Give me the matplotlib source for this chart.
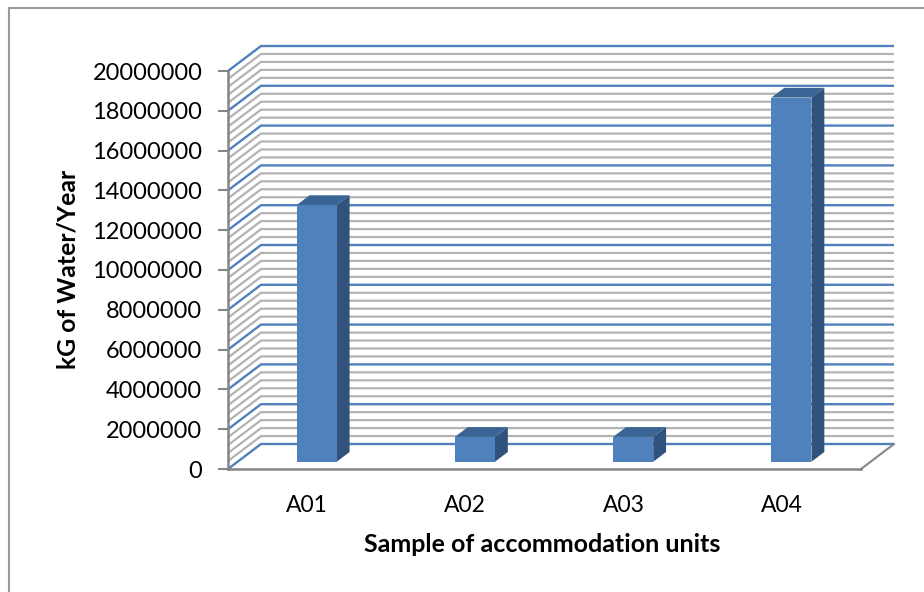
#!/usr/bin/env python

import numpy as np
import matplotlib
matplotlib.use("Agg")
import matplotlib.pyplot as plt
from matplotlib.lines import Line2D
from matplotlib.patches import Polygon

# values
units = ["A01", "A02", "A03", "A04"]
water = [12900000, 1250000, 1250000, 18300000]
major_ticks = [0, 2000000, 4000000, 6000000, 8000000, 10000000,
               12000000, 14000000, 16000000, 18000000, 20000000]
minor_step = 400000
y_max = 20000000

# colours
BLUE = "#4F81BD"
SIDE = "#31527C"
TOP = "#3A6493"
GRID = "#B3B3B3"
AXIS = "#868686"

# fake 3D: how far the back wall sits from the front plane, in data units
DEPTH_X = 33 / 158.25
DEPTH_Y = 25 / 19.9 * 1000000
BAR_WIDTH = 0.253
BAR_FRONT = 0.29
BAR_BACK = 0.68


def project(x, y, d):
    return (x + d * DEPTH_X, y + d * DEPTH_Y)


def draw_wall_line(ax, value, color, lw, z):
    x0, y0 = project(0, value, 0)
    x1, y1 = project(0, value, 1)
    x2, y2 = project(4, value, 1)
    ax.plot([x0, x1, x2], [y0, y1, y2], color=color, lw=lw, zorder=z,
            clip_on=False, solid_joinstyle="miter", solid_capstyle="butt")


def draw_bar(ax, pos, value):
    l = pos - BAR_WIDTH / 2
    r = pos + BAR_WIDTH / 2
    front = [project(l, 0, BAR_FRONT), project(r, 0, BAR_FRONT),
             project(r, value, BAR_FRONT), project(l, value, BAR_FRONT)]
    side = [project(r, 0, BAR_FRONT), project(r, 0, BAR_BACK),
            project(r, value, BAR_BACK), project(r, value, BAR_FRONT)]
    top = [project(l, value, BAR_FRONT), project(r, value, BAR_FRONT),
           project(r, value, BAR_BACK), project(l, value, BAR_BACK)]
    ax.add_patch(Polygon(side, closed=True, fc=SIDE, ec="none", zorder=5, clip_on=False))
    ax.add_patch(Polygon(top, closed=True, fc=TOP, ec="none", zorder=5, clip_on=False))
    ax.add_patch(Polygon(front, closed=True, fc=BLUE, ec="none", zorder=6, clip_on=False))


def main():
    plt.rcParams["font.family"] = ["Lato", "DejaVu Sans"]

    fig = plt.figure(figsize=(9.24, 5.92), dpi=100)
    # front plane of the chart box
    ax = fig.add_axes([228 / 924, 1 - 469 / 592, 633 / 924, 398 / 592])
    ax.set_xlim(0, 4)
    ax.set_ylim(0, y_max)

    # chart frame, only top and left are in the picture
    fig.add_artist(Line2D([8.5 / 924, 8.5 / 924, 1], [0, 1 - 8 / 592, 1 - 8 / 592],
                          color="#9A9A9A", lw=1.5))

    # minor grid first, major on top of it
    for value in np.arange(0, y_max + 1, minor_step):
        if value not in major_ticks:
            draw_wall_line(ax, value, GRID, 1.6, 1)
    for value in major_ticks:
        draw_wall_line(ax, value, BLUE, 1.7, 2)

    # right edge of the floor
    x0, y0 = project(4, 0, 0)
    x1, y1 = project(4, 0, 1)
    ax.plot([x0, x1], [y0, y1], color=AXIS, lw=1.5, zorder=3, clip_on=False)

    for i, value in enumerate(water):
        draw_bar(ax, i + 0.5, value)

    ax.patch.set_visible(False)
    for side in ["top", "right"]:
        ax.spines[side].set_visible(False)
    for side in ["left", "bottom"]:
        ax.spines[side].set_color(AXIS)
        ax.spines[side].set_linewidth(1.8)
        ax.spines[side].set_zorder(4)

    ax.set_yticks(major_ticks)
    ax.set_yticklabels([str(t) for t in major_ticks])
    ax.set_xticks(np.arange(len(units)) + 0.5)
    ax.set_xticklabels(units)
    ax.tick_params(axis="y", length=7, width=1.5, color=AXIS, labelsize=17, pad=11.5)
    ax.tick_params(axis="x", length=0, labelsize=16.5, pad=19)

    ax.set_xlabel("Sample of accommodation units", fontsize=18, fontweight="bold")
    ax.xaxis.set_label_coords((542.5 - 228) / 633, (469 - 545) / 398, transform=ax.transAxes)
    ax.xaxis.label.set_verticalalignment("center")
    ax.set_ylabel("kG of Water/Year", fontsize=17.8, fontweight="bold")
    ax.yaxis.set_label_coords((68 - 228) / 633, (469 - 269) / 398, transform=ax.transAxes)
    ax.yaxis.label.set_verticalalignment("center")

    fig.savefig("out.png", dpi=100, facecolor="white")


if __name__ == "__main__":
    main()
